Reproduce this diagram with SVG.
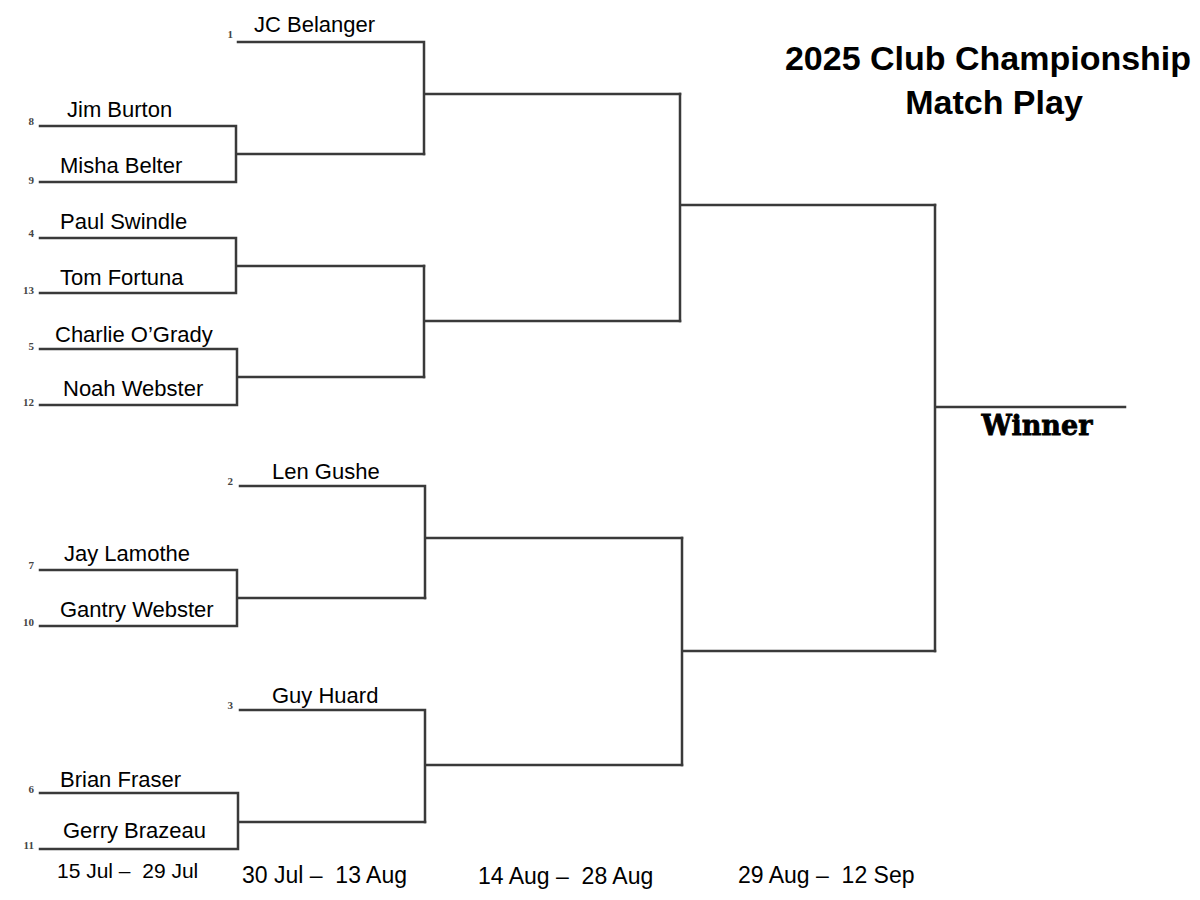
<svg xmlns="http://www.w3.org/2000/svg" width="1200" height="900" viewBox="0 0 1200 900">
<style>
.ln{fill:none;stroke:#3a3a3a;stroke-width:2.5;stroke-linejoin:miter;stroke-linecap:square}
.nm{font-family:"Liberation Sans",Arial,sans-serif;font-size:22px;fill:#000}
.sd{font-family:"Liberation Serif","Times New Roman",serif;font-size:11px;font-weight:bold;fill:#444;text-anchor:end}
.dt{font-family:"Liberation Sans",Arial,sans-serif;font-size:23px;fill:#000;white-space:pre}
.ti{font-family:"Liberation Sans",Arial,sans-serif;font-size:34px;font-weight:bold;fill:#000;text-anchor:middle}
.wn{font-family:"DejaVu Serif","Liberation Serif",serif;font-size:27px;font-weight:bold;fill:#000;stroke:#000;stroke-width:0.8;text-anchor:middle}
</style>
<rect width="1200" height="900" fill="#fff"/>
<g id="connectors">
<path class="ln" d="M40,126 H236 V182 H40 M236,154 H424"/>
<path class="ln" d="M40,238 H236 V293 H40 M236,266 H424"/>
<path class="ln" d="M40,349 H237 V405 H40 M237,377 H424"/>
<path class="ln" d="M238,42 H424 V154 M424,94 H680"/>
<path class="ln" d="M424,266 V377 M424,321 H680"/>
<path class="ln" d="M680,94 V321 M680,205 H935"/>
<path class="ln" d="M40,570 H237 V626 H40 M237,598 H425"/>
<path class="ln" d="M40,793 H238 V849 H40 M238,822 H425"/>
<path class="ln" d="M240,486 H425 V598 M425,538 H682"/>
<path class="ln" d="M240,710 H425 V822 M425,765 H682"/>
<path class="ln" d="M682,538 V765 M682,651 H935"/>
<path class="ln" d="M935,205 V651 M935,407 H1125"/>
</g>
<g id="title">
<text class="ti" x="988" y="70">2025 Club Championship</text>
<text class="ti" x="994" y="114">Match Play</text>
</g>
<g id="p1"><text class="sd" x="233" y="38">1</text><text class="nm" x="254" y="32">JC Belanger</text></g>
<g id="p8"><text class="sd" x="34" y="125">8</text><text class="nm" x="67" y="117">Jim Burton</text></g>
<g id="p9"><text class="sd" x="34" y="184">9</text><text class="nm" x="60" y="173">Misha Belter</text></g>
<g id="p4"><text class="sd" x="34" y="237">4</text><text class="nm" x="60" y="229">Paul Swindle</text></g>
<g id="p13"><text class="sd" x="34" y="294">13</text><text class="nm" x="60" y="285">Tom Fortuna</text></g>
<g id="p5"><text class="sd" x="34" y="350">5</text><text class="nm" x="55" y="342">Charlie O’Grady</text></g>
<g id="p12"><text class="sd" x="34" y="406">12</text><text class="nm" x="63" y="396">Noah Webster</text></g>
<g id="p2"><text class="sd" x="233" y="485">2</text><text class="nm" x="272" y="479">Len Gushe</text></g>
<g id="p7"><text class="sd" x="34" y="569">7</text><text class="nm" x="64" y="561">Jay Lamothe</text></g>
<g id="p10"><text class="sd" x="34" y="626">10</text><text class="nm" x="60" y="617">Gantry Webster</text></g>
<g id="p3"><text class="sd" x="233" y="709">3</text><text class="nm" x="272" y="703">Guy Huard</text></g>
<g id="p6"><text class="sd" x="34" y="793">6</text><text class="nm" x="60" y="787">Brian Fraser</text></g>
<g id="p11"><text class="sd" x="34" y="849">11</text><text class="nm" x="63" y="838">Gerry Brazeau</text></g>
<g id="winner"><text class="wn" x="1037" y="435">Winner</text></g>
<g id="dates">
<text class="dt" x="57" y="878" style="font-size:21px">15 Jul –  29 Jul</text>
<text class="dt" x="242" y="883">30 Jul –  13 Aug</text>
<text class="dt" x="478" y="884">14 Aug –  28 Aug</text>
<text class="dt" x="738" y="883">29 Aug –  12 Sep</text>
</g>
</svg>
